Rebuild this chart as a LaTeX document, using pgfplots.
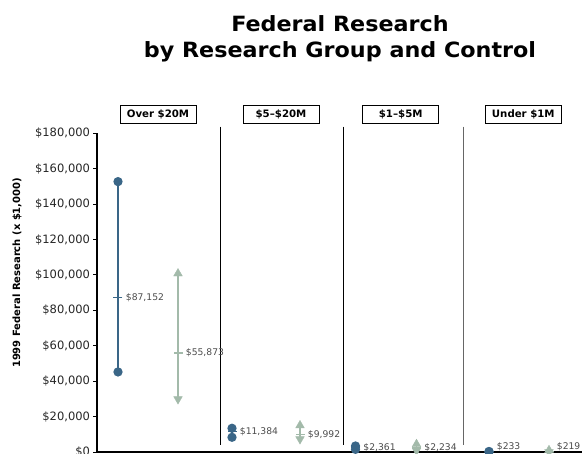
\documentclass[border=0pt]{standalone}
\usepackage{pgfplots}
\pgfplotsset{compat=1.18}
\usepackage{fontspec}
\setmainfont{DejaVu Sans}
\newfontfamily\titlefont[FakeStretch=1.06]{DejaVu Sans}
\definecolor{pubblue}{RGB}{58,102,135}
\definecolor{privgreen}{RGB}{163,186,170}
\definecolor{lblgray}{RGB}{75,75,75}
\pgfplotsset{/pgf/number format/.cd, fixed, precision=0, 1000 sep={,}, assume math mode=true}
\begin{document}
\begin{tikzpicture}[x=1pt,y=1pt]
\useasboundingbox (0,0) rectangle (582,454);
\begin{axis}[
  at={(97pt,2pt)}, anchor=south west,
  scale only axis, width=485pt, height=318.7pt,
  xmin=97, xmax=582, ymin=0, ymax=180000,
  axis x line=bottom, axis y line=left,
  axis line style={-, line width=1.1pt, black},
  xtick=\empty,
  ytick={0,20000,...,180000},
  scaled y ticks=false,
  tick align=outside, major tick length=3.5pt,
  ytick style={line width=0.9pt, black},
  yticklabel={\$\pgfmathprintnumber{\tick}},
  yticklabel style={font=\fontsize{11.5}{13}\selectfont, text=black!85},
  ylabel={1999 Federal Research (x \$1,000)},
  ylabel style={at={(axis description cs:-0.165,0.562)}, anchor=center, font=\bfseries\fontsize{10}{12}\selectfont},
  clip=false,
  every node near coord/.append style={anchor=west, xshift=4pt, font=\fontsize{9.2}{11}\selectfont, text=lblgray},
]
% dividers
\addplot[black, line width=1.1pt, forget plot] coordinates {(220.5,183700) (220.5,3950)};
\addplot[black, line width=1.1pt, forget plot] coordinates {(343.5,183700) (343.5,3950)};
\addplot[black!60, line width=1.4pt, forget plot] coordinates {(463.3,183700) (463.3,3950)};
% group headers
\node[draw=black, line width=0.8pt, minimum width=76pt, minimum height=18pt, inner sep=0pt, font=\bfseries\fontsize{10.2}{12}\selectfont] at (axis cs:158,190900) {Over \$20M};
\node[draw=black, line width=0.8pt, minimum width=76pt, minimum height=18pt, inner sep=0pt, font=\bfseries\fontsize{10.2}{12}\selectfont] at (axis cs:281,190900) {\$5--\$20M};
\node[draw=black, line width=0.8pt, minimum width=76pt, minimum height=18pt, inner sep=0pt, font=\bfseries\fontsize{10.2}{12}\selectfont] at (axis cs:400.7,190900) {\$1--\$5M};
\node[draw=black, line width=0.8pt, minimum width=76pt, minimum height=18pt, inner sep=0pt, font=\bfseries\fontsize{10.2}{12}\selectfont] at (axis cs:523.3,190900) {Under \$1M};
% public (blue) ranges
\addplot[pubblue, line width=1.2pt, mark=*, mark size=4pt, unbounded coords=jump] table {
x y
118 152700
118 45200
nan nan
232 13400
232 8300
nan nan
355.5 3400
355.5 1500
nan nan
489 300
489 100
};
% public means
\addplot[pubblue, line width=1.2pt, only marks, mark=-, mark size=4.5pt,
  point meta=explicit, nodes near coords={\$\pgfmathprintnumber{\pgfplotspointmeta}}] table[meta=m] {
x y m
118 87152 87152
232 11384 11384
355.5 2361 2361
};
\addplot[pubblue, line width=1.2pt, only marks, mark=-, mark size=4.5pt,
  point meta=explicit, nodes near coords={\$\pgfmathprintnumber{\pgfplotspointmeta}},
  every node near coord/.append style={yshift=5pt}] table[meta=m] {
x y m
489 233 233
};
% private (green) ranges
\addplot[privgreen, line width=1.2pt, no marks, unbounded coords=jump] table {
x y
178 100800
178 29900
nan nan
300 15000
300 7300
nan nan
416.5 4400
416.5 800
nan nan
549 1000
549 0
};
\addplot[privgreen, only marks, mark=triangle*, mark size=5pt] table {
x y
178 100800
300 15000
416.5 4400
549 1000
};
\addplot[privgreen, only marks, mark=triangle*, mark size=5pt, mark options={rotate=180}] table {
x y
178 29900
300 7300
416.5 800
549 0
};
\addplot[privgreen, line width=1.2pt, only marks, mark=-, mark size=4.5pt,
  point meta=explicit, nodes near coords={\$\pgfmathprintnumber{\pgfplotspointmeta}}] table[meta=m] {
x y m
178 55873 55873
300 9992 9992
416.5 2234 2234
};
\addplot[privgreen, line width=1.2pt, only marks, mark=-, mark size=4.5pt,
  point meta=explicit, nodes near coords={\$\pgfmathprintnumber{\pgfplotspointmeta}},
  every node near coord/.append style={yshift=5pt}] table[meta=m] {
x y m
549 219 219
};
\end{axis}
\node[font=\titlefont\bfseries\fontsize{21}{25}\selectfont, anchor=base, inner sep=0pt] at (340,422.3) {Federal Research};
\node[font=\titlefont\bfseries\fontsize{21}{25}\selectfont, anchor=base, inner sep=0pt] at (340,396) {by Research Group and Control};
\end{tikzpicture}
\end{document}
